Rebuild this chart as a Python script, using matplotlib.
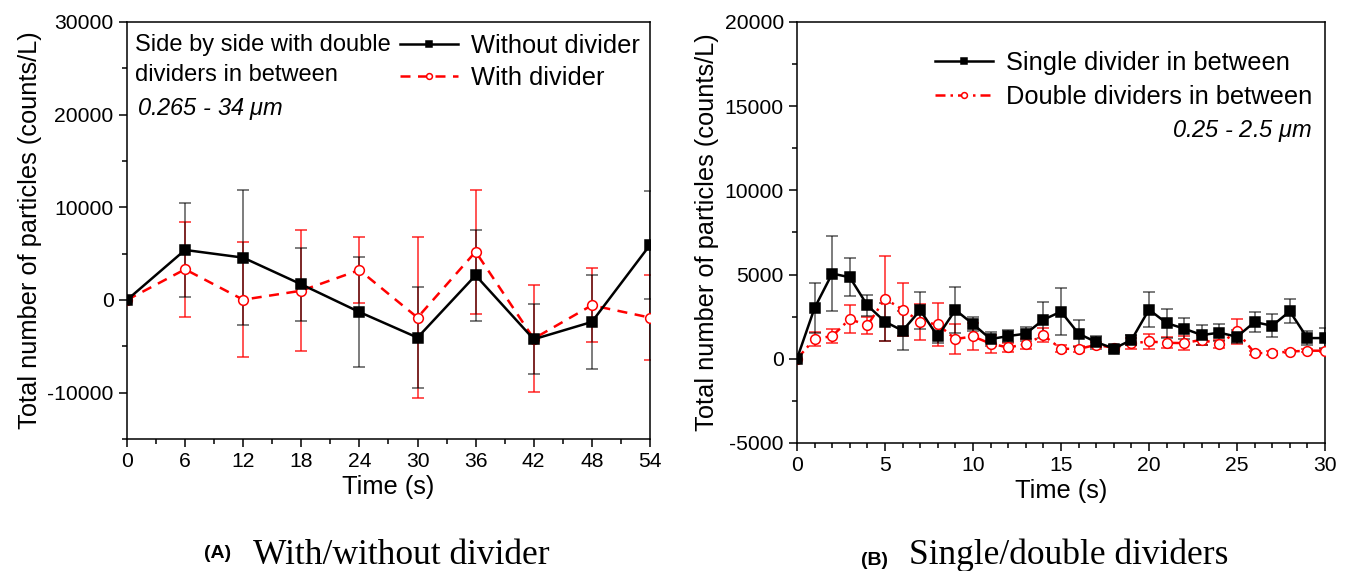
import matplotlib
matplotlib.use("Agg")

import matplotlib.pyplot as plt
from matplotlib.ticker import MultipleLocator

plt.rcParams["font.family"] = ["Liberation Sans", "DejaVu Sans"]
plt.rcParams["mathtext.fontset"] = "custom"
plt.rcParams["mathtext.it"] = "Liberation Sans:italic"
plt.rcParams["mathtext.rm"] = "Liberation Sans"
plt.rcParams["axes.unicode_minus"] = False

# --- Panel A: with / without divider (0.265 - 34 um) -----------------------
time_a = [0, 6, 12, 18, 24, 30, 36, 42, 48, 54]
without_div = [0, 5400, 4570, 1690, -1300, -4060, 2660, -4240, -2370, 5930]
without_err = [0, 5100, 7300, 3950, 5970, 5460, 4900, 3770, 5050, 5800]
with_div = [0, 3310, 30, 1000, 3230, -1900, 5210, -4170, -570, -1900]
with_err = [0, 5130, 6200, 6540, 3550, 8700, 6700, 5800, 3970, 4560]

# --- Panel B: single / double dividers (0.25 - 2.5 um) ---------------------
time_b = list(range(31))
single_div = [0, 3020, 5060, 4840, 3170, 2200, 1670, 2880, 1330, 2900,
              2060, 1170, 1350, 1490, 2320, 2800, 1490, 990, 610, 1110,
              2920, 2120, 1790, 1410, 1550, 1310, 2180, 1960, 2820, 1230, 1230]
single_err = [0, 1490, 2210, 1120, 615, 1140, 1170, 1110, 370, 1340,
              400, 400, 380, 420, 1070, 1380, 810, 380, 200, 300,
              1040, 860, 640, 580, 500, 400, 615, 680, 710, 400, 570]
double_div = [0, 1170, 1350, 2360, 1980, 3570, 2920, 2200, 2040, 1170,
              1330, 900, 670, 870, 1390, 600, 580, 830, 650, 910,
              1030, 950, 930, 1130, 870, 1630, 340, 340, 430, 480, 480]
double_err = [0, 400, 400, 840, 500, 2530, 1590, 1060, 1300, 910,
              820, 530, 250, 290, 420, 200, 150, 150, 150, 300,
              460, 330, 400, 300, 250, 740, 100, 100, 100, 100, 100]

RED = "#ff0000"
TICK_FS = 15.2
LABEL_FS = 18.3
LEG_FS = 18.3
NOTE_FS = 17
SERIF = ["Liberation Serif", "DejaVu Serif"]


def style_axes(ax):
    for s in ax.spines.values():
        s.set_linewidth(1.1)
    ax.tick_params(which="both", direction="out", top=False, right=False,
                   labelsize=TICK_FS, width=1.1)
    ax.tick_params(which="major", length=6)
    ax.tick_params(which="minor", length=3.5)


def draw_series(ax, x, y, err, color, ls, marker, mfc, ecolor, ealpha, label):
    ax.errorbar(x, y, yerr=err, fmt="none", ecolor=ecolor, alpha=ealpha,
                elinewidth=1.1, capsize=4, capthick=1.1, zorder=2)
    ax.plot(x, y, color=color, ls=ls, lw=1.8, marker=marker, ms=7,
            mfc=mfc, mec=color, mew=1.1, label=label, zorder=3)


fig = plt.figure(figsize=(13.49, 5.71), dpi=100)
ax1 = fig.add_axes([0.0941, 0.2312, 0.3877, 0.7303])
ax2 = fig.add_axes([0.5908, 0.2242, 0.3914, 0.7373])

# Panel A
draw_series(ax1, time_a, with_div, with_err, RED, (0, (4, 3)), "o", "white",
            RED, 0.85, "With divider")
draw_series(ax1, time_a, without_div, without_err, "black", "-", "s", "black",
            "black", 0.65, "Without divider")
ax1.set_xlim(0, 54)
ax1.set_ylim(-15000, 30000)
ax1.xaxis.set_major_locator(MultipleLocator(6))
ax1.xaxis.set_minor_locator(MultipleLocator(3))
ax1.yaxis.set_major_locator(MultipleLocator(10000))
ax1.yaxis.set_minor_locator(MultipleLocator(5000))
ax1.set_yticks([-10000, 0, 10000, 20000, 30000])
ax1.set_xlabel("Time (s)", fontsize=LABEL_FS, labelpad=3)
ax1.set_ylabel("Total number of particles (counts/L)", fontsize=LABEL_FS, labelpad=4)
style_axes(ax1)
h, l = ax1.get_legend_handles_labels()
ax1.legend(h[::-1], l[::-1], loc="upper right", bbox_to_anchor=(1.0, 0.995),
           frameon=False, fontsize=LEG_FS, handlelength=2.3, markerscale=0.6,
           borderaxespad=0.0, labelspacing=0.3, handletextpad=0.5)
ax1.text(0.015, 0.97, "Side by side with double\ndividers in between",
         transform=ax1.transAxes, fontsize=NOTE_FS, va="top", ha="left",
         linespacing=1.42)
ax1.text(0.02, 0.792, r"0.265 - 34 $\mu$m", transform=ax1.transAxes,
         fontsize=NOTE_FS, style="italic", va="center", ha="left")

# Panel B
draw_series(ax2, time_b, double_div, double_err, RED, (0, (4, 2, 1, 2)), "o",
            "white", RED, 0.85, "Double dividers in between")
draw_series(ax2, time_b, single_div, single_err, "black", "-", "s", "black",
            "black", 0.65, "Single divider in between")
ax2.set_xlim(0, 30)
ax2.set_ylim(-5000, 20000)
ax2.xaxis.set_major_locator(MultipleLocator(5))
ax2.xaxis.set_minor_locator(MultipleLocator(1))
ax2.yaxis.set_major_locator(MultipleLocator(5000))
ax2.yaxis.set_minor_locator(MultipleLocator(2500))
ax2.set_xlabel("Time (s)", fontsize=LABEL_FS, labelpad=3)
ax2.set_ylabel("Total number of particles (counts/L)", fontsize=LABEL_FS, labelpad=4)
style_axes(ax2)
h, l = ax2.get_legend_handles_labels()
ax2.legend(h[::-1], l[::-1], loc="upper right", bbox_to_anchor=(0.995, 0.955),
           frameon=False, fontsize=LEG_FS, handlelength=2.3, markerscale=0.6,
           borderaxespad=0.0, labelspacing=0.38, handletextpad=0.5)
ax2.text(0.975, 0.74, r"0.25 - 2.5 $\mu$m", transform=ax2.transAxes,
         fontsize=NOTE_FS, style="italic", va="center", ha="right")

# Captions
fig.text(0.151, 0.022, "(A)", fontsize=14, fontweight="bold", va="baseline")
fig.text(0.1875, 0.012, "With/without divider", fontsize=25.5,
         family=SERIF, va="baseline")
fig.text(0.638, 0.010, "(B)", fontsize=14, fontweight="bold", va="baseline")
fig.text(0.674, 0.012, "Single/double dividers", fontsize=25.5,
         family=SERIF, va="baseline")

fig.savefig("out.png", dpi=100)
